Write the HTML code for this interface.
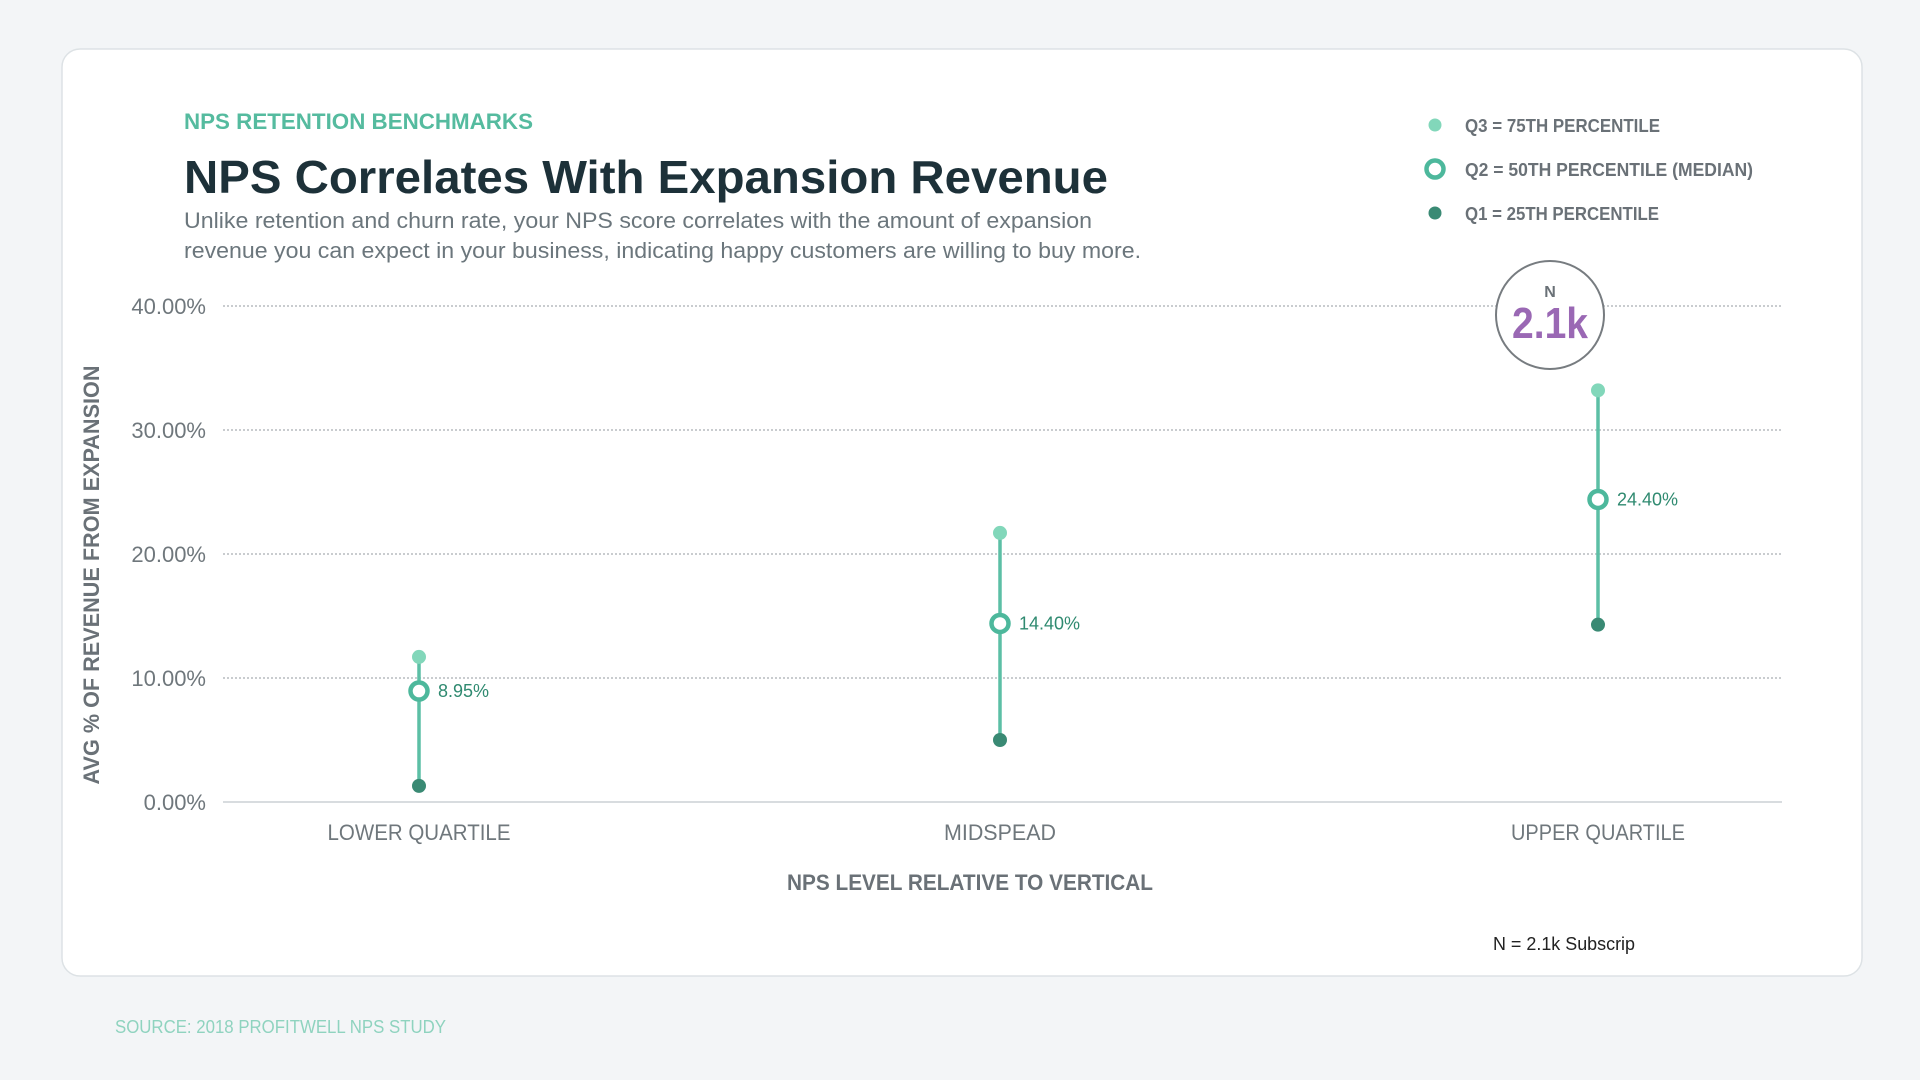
<!DOCTYPE html>
<html><head><meta charset="utf-8"><style>
html,body{margin:0;padding:0;background:#f3f5f7;}
svg{display:block;font-family:"Liberation Sans",sans-serif;}
</style></head><body>
<svg id="chart" width="1920" height="1080" viewBox="0 0 1920 1080">
<rect x="0" y="0" width="1920" height="1080" fill="#f3f5f7"/>
<rect x="62" y="49" width="1800" height="927" rx="18" fill="#fff" stroke="#dde2e5" stroke-width="1.5"/>
<text x="184" y="129" font-size="22" font-weight="bold" fill="#55bb9f" textLength="349" lengthAdjust="spacingAndGlyphs">NPS RETENTION BENCHMARKS</text>
<text x="184" y="193" font-size="46" font-weight="bold" fill="#1d3139" textLength="924" lengthAdjust="spacingAndGlyphs">NPS Correlates With Expansion Revenue</text>
<text x="184" y="228" font-size="22" fill="#6b767c" textLength="908" lengthAdjust="spacingAndGlyphs">Unlike retention and churn rate, your NPS score correlates with the amount of expansion</text>
<text x="184" y="258" font-size="22" fill="#6b767c" textLength="957" lengthAdjust="spacingAndGlyphs">revenue you can expect in your business, indicating happy customers are willing to buy more.</text>
<g>
<circle cx="1435" cy="125" r="6.5" fill="#82d7ba"/>
<text x="1465" y="132" font-size="18" font-weight="bold" fill="#6a7177" textLength="195" lengthAdjust="spacingAndGlyphs">Q3 = 75TH PERCENTILE</text>
<circle cx="1435" cy="169" r="8.5" fill="#fff" stroke="#4db89c" stroke-width="4.5"/>
<text x="1465" y="176" font-size="18" font-weight="bold" fill="#6a7177" textLength="288" lengthAdjust="spacingAndGlyphs">Q2 = 50TH PERCENTILE (MEDIAN)</text>
<circle cx="1435" cy="213" r="6.5" fill="#3a8a74"/>
<text x="1465" y="220" font-size="18" font-weight="bold" fill="#6a7177" textLength="194" lengthAdjust="spacingAndGlyphs">Q1 = 25TH PERCENTILE</text>
</g>
<g id="grid"></g>
<g id="yticks"></g>
<g id="xticks"></g>
<g id="marks"></g>
<text transform="translate(99,575) rotate(-90)" text-anchor="middle" font-size="22" font-weight="bold" fill="#6a7177" textLength="419" lengthAdjust="spacingAndGlyphs">AVG % OF REVENUE FROM EXPANSION</text>
<text x="970" y="890" text-anchor="middle" font-size="22" font-weight="bold" fill="#6a7177" textLength="366" lengthAdjust="spacingAndGlyphs">NPS LEVEL RELATIVE TO VERTICAL</text>
<g>
<circle cx="1550" cy="315" r="54" fill="#fff" stroke="#777c80" stroke-width="2"/>
<text x="1550" y="297" text-anchor="middle" font-size="16" font-weight="bold" fill="#6a7177">N</text>
<text x="1550" y="338" text-anchor="middle" font-size="44" font-weight="bold" fill="#9a68b4" textLength="76" lengthAdjust="spacingAndGlyphs">2.1k</text>
</g>
<text x="1493" y="950" font-size="18" fill="#222" textLength="142" lengthAdjust="spacingAndGlyphs">N = 2.1k Subscrip</text>
<text x="115" y="1033" font-size="18" fill="#8fd3bf" textLength="331" lengthAdjust="spacingAndGlyphs">SOURCE: 2018 PROFITWELL NPS STUDY</text>
</svg>
<script>
const categories = ["LOWER QUARTILE","MIDSPEAD","UPPER QUARTILE"];
const q3Values = [11.7, 21.7, 33.2];
const q2Values = [8.95, 14.4, 24.4];
const q1Values = [1.3, 5.0, 14.3];
const q2Labels = ["8.95%","14.40%","24.40%"];
const yTicks = [0,10,20,30,40];
const yTickLabels = ["0.00%","10.00%","20.00%","30.00%","40.00%"];
const catLabelWidths = [183,112,174];

const NS="http://www.w3.org/2000/svg";
const plotLeft=223, plotRight=1782, y0=802, pxPer=12.4;
const catX=[419,1000,1598];
function yScale(v){return y0 - v*pxPer;}
function xScale(i){return catX[i];}
function mk(tag,attrs,parent){const e=document.createElementNS(NS,tag);for(const k in attrs)e.setAttribute(k,attrs[k]);parent.appendChild(e);return e;}
const grid=document.getElementById('grid'), yt=document.getElementById('yticks'), xt=document.getElementById('xticks'), marks=document.getElementById('marks');
yTicks.forEach((t,i)=>{
  const y=yScale(t);
  const l=mk('line',{x1:plotLeft,x2:plotRight,y1:y,y2:y,stroke:t===0?'#d8dcdf':'#a9aeb2','stroke-width':t===0?2:1.3,'stroke-dasharray':t===0?'none':'2 2'},grid);
  
  
  const tx=mk('text',{x:206,y:y+8,'text-anchor':'end','font-size':22,fill:'#6f777c'},yt);
  tx.textContent=yTickLabels[i];
  
  
});
categories.forEach((c,i)=>{
  const x=xScale(i);
  const tx=mk('text',{x:x,y:840,'text-anchor':'middle','font-size':22,fill:'#6f777c',textLength:catLabelWidths[i],lengthAdjust:'spacingAndGlyphs'},xt);
  tx.textContent=c;
  
  
  const g=mk('g',{},marks);
  
  
  const ln=mk('line',{x1:x,x2:x,y1:yScale(q3Values[i]),y2:yScale(q1Values[i]),stroke:'#5cbfa5','stroke-width':3.5},g);
  
  
  const a=mk('circle',{cx:x,cy:yScale(q3Values[i]),r:7,fill:'#82d7ba'},g);
  
  
  const b=mk('circle',{cx:x,cy:yScale(q1Values[i]),r:7,fill:'#3a8a74'},g);
  
  
  const m=mk('circle',{cx:x,cy:yScale(q2Values[i]),r:8.5,fill:'#fff',stroke:'#4db89c','stroke-width':4.5},g);
  
  
  const lb=mk('text',{x:x+19,y:yScale(q2Values[i])+6,'font-size':18,fill:'#2f8a70'},g);
  lb.textContent=q2Labels[i];
  
  
});
</script>
</body></html>
